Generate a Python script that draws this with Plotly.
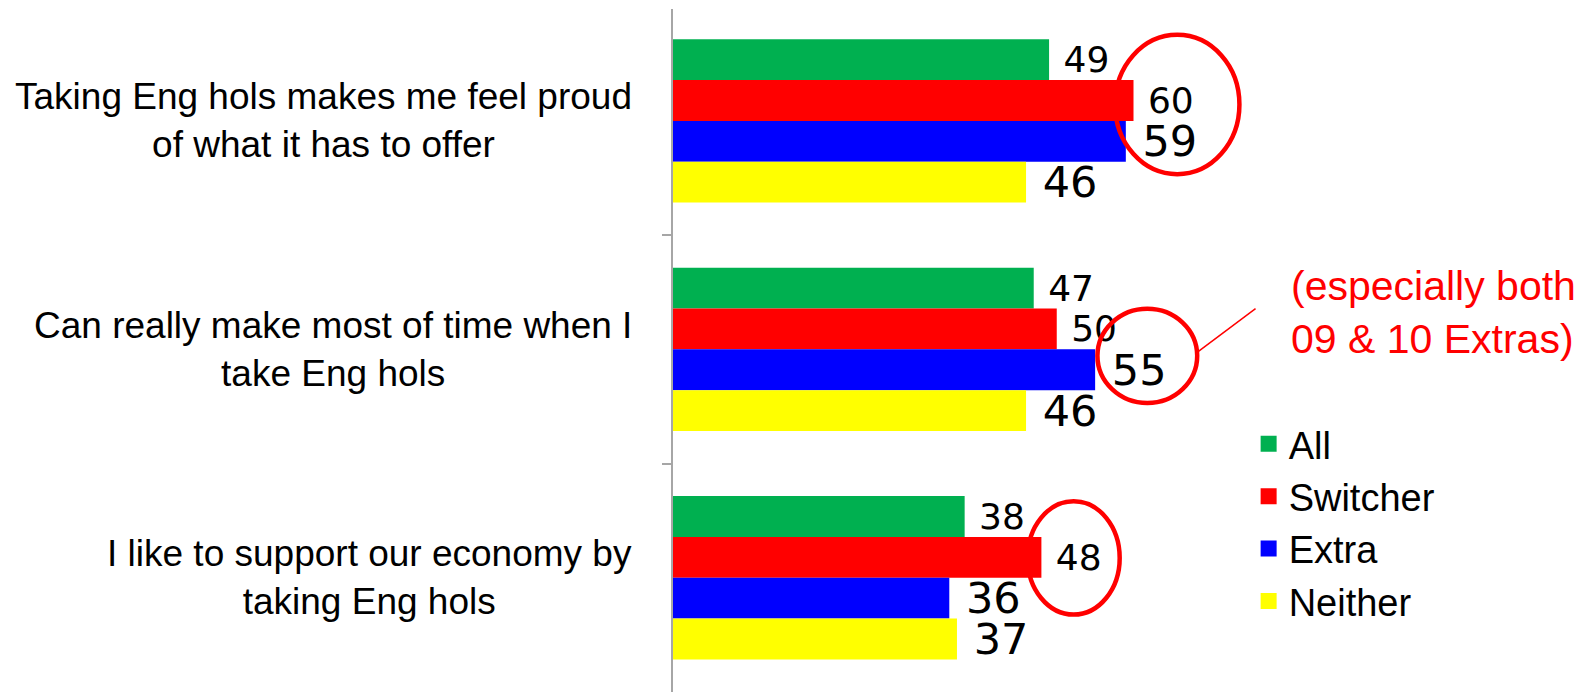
import plotly.graph_objects as go

categories = [
    "Taking Eng hols makes me feel proud<br>of what it has to offer",
    "Can really make most of time when I<br>take Eng hols",
    "I like to support our economy by<br>taking Eng hols",
]
series_names = ["All", "Switcher", "Extra", "Neither"]
all_vals = [49, 47, 38]
switcher_vals = [60, 50, 48]
extra_vals = [59, 55, 36]
neither_vals = [46, 46, 37]
series_vals = [all_vals, switcher_vals, extra_vals, neither_vals]
series_colors = ["#00B050", "#FF0000", "#0000FF", "#FFFF00"]
label_sizes = [36, 36, 43, 43]

note_text = "(especially both<br>09 &amp; 10 Extras)"

# highlight ellipses (x in value units, y in category-index units)
ellipses = [
    (57.6, 73.8, -0.377, 0.233),
    (55.3, 68.3, 0.822, 1.235),
    (46.2, 58.2, 1.665, 2.161),
]
pointer = (68.2, 1.015, 75.9, 0.822)

fig = go.Figure()
for name, vals, col, fs in zip(series_names, series_vals, series_colors, label_sizes):
    fig.add_trace(go.Bar(
        name=name, y=categories, x=vals, orientation="h",
        marker=dict(color=col, line=dict(width=0)),
        text=["\u00a0" + str(v) for v in vals],
        textposition="outside", constraintext="none", cliponaxis=False,
        textfont=dict(family="DejaVu Sans", size=fs, color="#000000"),
        showlegend=False, hoverinfo="skip",
    ))
for name, col in zip(series_names, series_colors):
    fig.add_trace(go.Scatter(
        name=name, x=[None], y=[None], mode="markers",
        marker=dict(symbol="square", size=16, color=col),
        showlegend=True, hoverinfo="skip",
    ))

for cat in categories:
    fig.add_annotation(
        x=0, xref="paper", y=cat, yref="y", text=cat, showarrow=False,
        xanchor="right", align="center", xshift=-39,
        font=dict(family="Liberation Sans, Arial", size=37, color="#000000"),
    )

for (x0, x1, y0, y1) in ellipses:
    fig.add_shape(type="circle", xref="x", yref="y", x0=x0, x1=x1, y0=y0, y1=y1,
                  line=dict(color="#FF0000", width=4.5), fillcolor="rgba(0,0,0,0)")
fig.add_shape(type="line", xref="x", yref="y", x0=pointer[0], y0=pointer[1],
              x1=pointer[2], y1=pointer[3], line=dict(color="#FF0000", width=1.5))

fig.add_annotation(
    x=0.669, xref="paper", y=0.5556, yref="paper", text=note_text, showarrow=False,
    xanchor="left", yanchor="middle", align="left",
    font=dict(family="Liberation Sans, Arial", size=41, color="#FF0000"),
)

fig.update_layout(
    width=1594, height=692,
    margin=dict(l=673, r=0, t=9, b=0),
    paper_bgcolor="#FFFFFF", plot_bgcolor="#FFFFFF",
    barmode="group", bargap=0.285, bargroupgap=0,
    legend=dict(x=0.625, xanchor="left", y=0.248, yanchor="middle",
                traceorder="normal", bgcolor="rgba(0,0,0,0)",
                font=dict(family="Liberation Sans, Arial", size=38, color="#000000")),
    xaxis=dict(range=[0, 120], visible=False, showgrid=False, zeroline=False),
    yaxis=dict(type="category", categoryorder="array", categoryarray=categories,
               range=[2.5, -0.49], showticklabels=False, showgrid=False, zeroline=False,
               showline=True, linecolor="#A6A6A6", linewidth=1.5,
               ticks="outside", tickson="boundaries", ticklen=9, tickwidth=1.5,
               tickcolor="#A6A6A6"),
)

fig.write_html("out.html", config={"displayModeBar": False},
               post_script="document.body.style.margin='0px';")
